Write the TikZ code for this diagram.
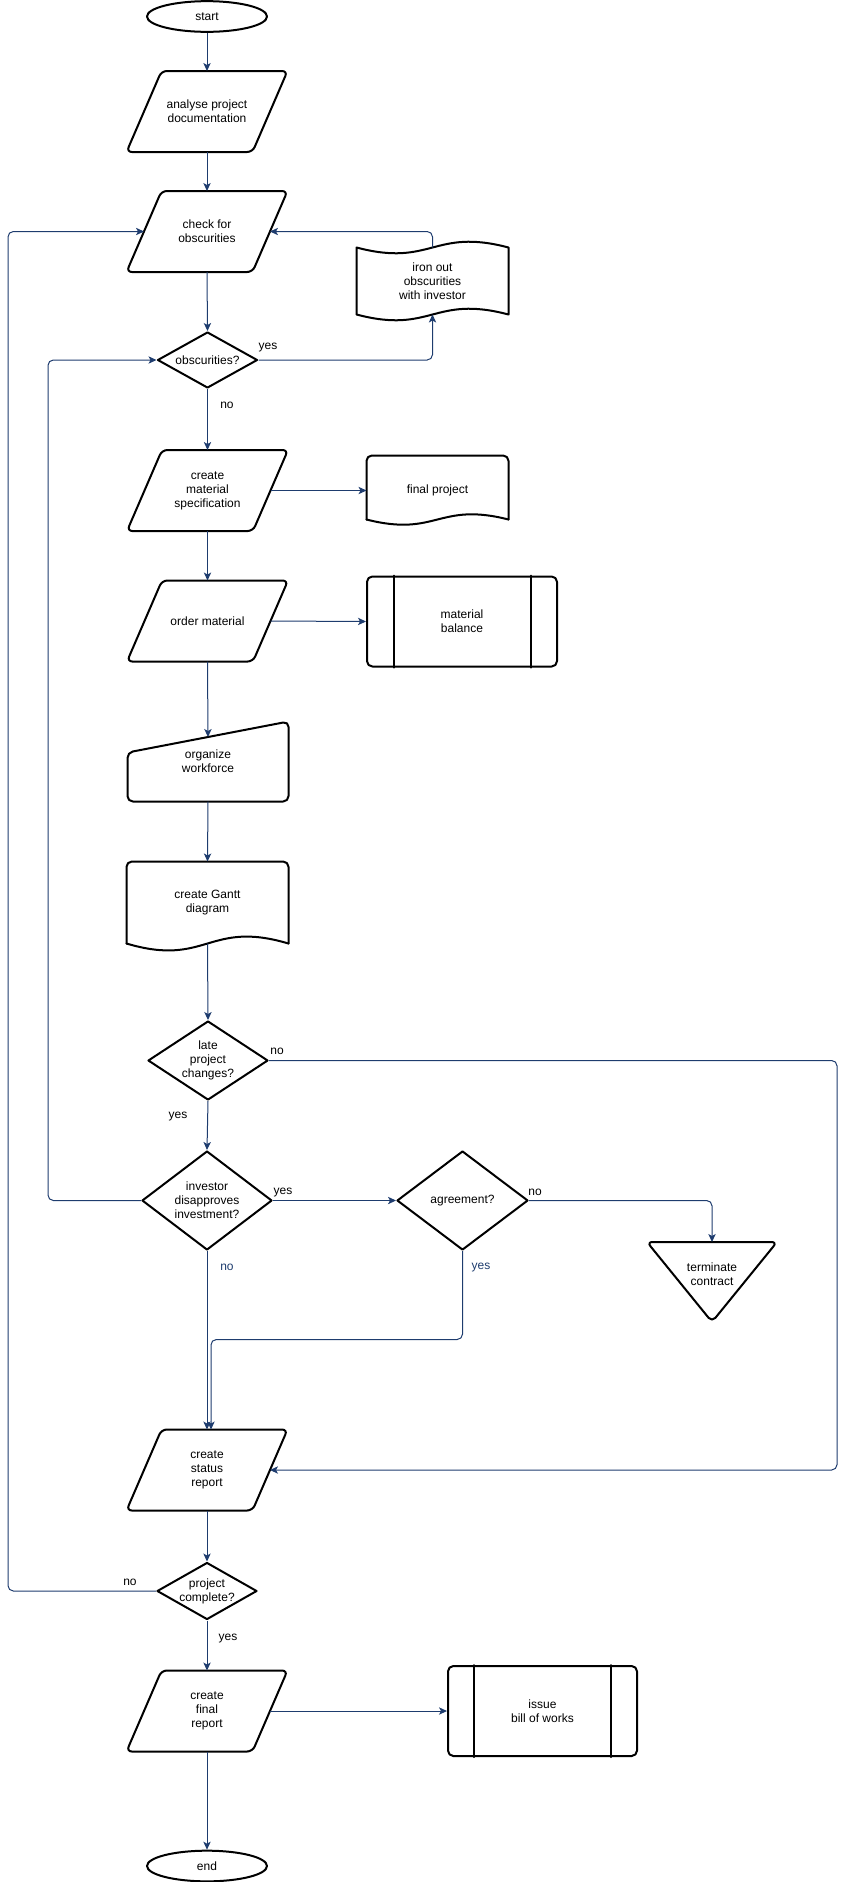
\documentclass[tikz,border=0pt]{standalone}
\usepackage{fontspec}
\setmainfont{Liberation Sans}
\usetikzlibrary{shapes.geometric,arrows.meta,calc}

\definecolor{linkblue}{RGB}{30,60,110}

\tikzset{every picture/.style={line width=0.75pt}}
\tikzset{
box text/.style={font=\fontsize{9}{10.5}\selectfont, align=center, inner sep=0pt},
outline/.style={draw=black, line width=1.5pt, line join=round, line cap=round},
terminal/.style={box text, outline, ellipse, minimum width=90pt, minimum height=23pt},
io box/.style={box text, rectangle, minimum width=93.75pt, minimum height=60pt},
decision/.style={box text, outline, diamond, shape aspect=1.5},
plain box/.style={box text, rectangle},
flow/.style={draw=linkblue, line width=0.75pt, rounded corners=4pt, -{Stealth[length=6pt,width=5.5pt,inset=1.5pt]}},
branch/.style={font=\fontsize{9}{10.5}\selectfont, inner sep=0pt}}

\begin{document}
\begin{tikzpicture}[x=0.75pt,y=0.75pt,yscale=-1,xscale=1]
\useasboundingbox (0,0) rectangle (853,1882);

%Rails for the loop connectors
\coordinate (leftrail) at (8,0);
\coordinate (midrail) at (48,0);
\coordinate (rightrail) at (837,0);

%Shape: Terminator
\node[terminal] (start) at (207,16.5) {start};
%Shape: Data
\node[io box] (analyse) at (207,111.5) {analyse project\\documentation};
\node[io box] (check) at (207,231.5) {check for\\obscurities};
%Shape: Decision
\node[decision, minimum width=75pt, minimum height=42pt] (obs) at (207.5,360) {obscurities?};
%Shape: Tape
\node[plain box, minimum width=113.25pt, minimum height=49.5pt] (ironout) at (432.5,281) {iron out\\obscurities\\with investor};
\draw[outline] (ironout.north west) .. controls +(75.5,20) and +(-75.5,-20) .. (ironout.north east) -- (ironout.south east) .. controls +(-75.5,-20) and +(75.5,20) .. (ironout.south west) -- cycle;

%Shape: Data
\node[io box] (spec) at (207.5,490.5) {create\\material\\specification};
%Shape: Document
\node[plain box, minimum width=105.75pt, minimum height=51pt] (final) at (437.5,490) {final project};
\draw[outline, rounded corners=4pt] ($(final.south west)+(0,-5)$) -- (final.north west) -- (final.north east) -- ($(final.south east)+(0,-5)$);
\draw[outline] ($(final.south east)+(0,-5)$) .. controls +(-70.5,-18) and +(70.5,18) .. ($(final.south west)+(0,-5)$);

%Shape: Data
\node[io box] (order) at (207.5,621) {order material};
%Shape: Predefined Process
\node[plain box, outline, rounded corners=4pt, minimum width=142.5pt, minimum height=67.5pt] (balance) at (462,621.5) {material\\balance};
\draw[outline] ($(balance.north west)+(28,0)$) -- ($(balance.south west)+(28,0)$);
\draw[outline] ($(balance.north east)+(-27,0)$) -- ($(balance.south east)+(-27,0)$);

%Shape: Manual Input
\node[plain box, minimum width=120pt, minimum height=59.25pt] (workforce) at (208,761.5) {organize\\workforce};
\draw[outline, rounded corners=4pt] (workforce.south west) -- ($(workforce.north west)+(0,31)$) -- (workforce.north east) -- (workforce.south east) -- cycle;
\coordinate (workforce top) at ($(workforce.north)+(0,15.5)$);

%Shape: Document
\node[plain box, minimum width=120.75pt, minimum height=60.75pt] (gantt) at (207.5,902.5) {create Gantt\\diagram};
\draw[outline, rounded corners=4pt] (gantt.south west) -- (gantt.north west) -- (gantt.north east) -- (gantt.south east);
\draw[outline] (gantt.south east) .. controls +(-80.5,-24) and +(80.5,24) .. (gantt.south west);

%Shape: Decision
\node[decision, minimum width=90pt, minimum height=59.25pt] (late) at (208,1060.5) {late\\project\\changes?};
\node[decision, minimum width=97.5pt, minimum height=74.25pt] (disapprove) at (207,1200.5) {investor\\disapproves\\investment?};
\node[decision, minimum width=98.25pt, minimum height=74.25pt] (agree) at (462.5,1200.5) {agreement?};

%Shape: Extract
\node[plain box] (terminate) at (712,1274) {terminate\\contract};
\draw[outline, rounded corners=4pt] ($(terminate.center)+(-65,-32)$) -- ($(terminate.center)+(65,-32)$) -- ($(terminate.center)+(0,48)$) -- cycle;
\coordinate (terminate top) at ($(terminate.center)+(0,-32)$);

%Shape: Data
\node[io box] (status) at (207,1470) {create\\status\\report};
%Shape: Decision
\node[decision, shape aspect=1.75, minimum width=75pt, minimum height=42.75pt] (complete) at (207,1591) {project\\complete?};
%Shape: Data
\node[io box] (report) at (207,1711) {create\\final\\report};
%Shape: Predefined Process
\node[plain box, outline, rounded corners=4pt, minimum width=141.75pt, minimum height=67.5pt] (bill) at (542.5,1711) {issue\\bill of works};
\draw[outline] ($(bill.north west)+(27,0)$) -- ($(bill.south west)+(27,0)$);
\draw[outline] ($(bill.north east)+(-27,0)$) -- ($(bill.south east)+(-27,0)$);
%Shape: Terminator
\node[terminal] (stop) at (207,1866) {end};

%Slanted sides of the data boxes
\foreach \n in {analyse,check,spec,order,status,report}
  \draw[outline, rounded corners=4pt] ($(\n.south west)+(-17.5,0)$) -- ($(\n.north west)+(17.5,0)$) -- ($(\n.north east)+(17.5,0)$) -- ($(\n.south east)+(-17.5,0)$) -- cycle;

%Connectors
\draw[flow] (start.south) -- (analyse.north);
\draw[flow] (analyse.south) -- (check.north);
\draw[flow] (check.south) -- (obs.north);
\draw[flow] (obs.east) -| (ironout.south);
\draw[flow] (ironout.north) |- (check.east);
\draw[flow] (obs.south) -- (spec.north);
\draw[flow] (spec.east) -- (spec.east -| final.west);
\draw[flow] (spec.south) -- (order.north);
\draw[flow] (order.east) -- (balance.west);
\draw[flow] (order.south) -- (workforce top);
\draw[flow] (workforce.south) -- (gantt.north);
\draw[flow] (gantt.south) -- (late.north);
\draw[flow] (late.east) -- (late.east -| rightrail) |- (status.east);
\draw[flow] (late.south) -- (disapprove.north);
\draw[flow] (disapprove.east) -- (agree.west);
\draw[flow] (agree.east) -| (terminate top);
\draw[flow] (disapprove.west) -- (disapprove.west -| midrail) |- (obs.west);
\draw[flow] (disapprove.south) -- (status.north);
\coordinate (merge) at ($(status.north)+(4,-90)$);
\draw[flow] (agree.south) |- (merge) -- (merge |- status.north);
\draw[flow] (status.south) -- (complete.north);
\draw[flow] (complete.west) -- (complete.west -| leftrail) |- (check.west);
\draw[flow] (complete.south) -- (report.north);
\draw[flow] (report.east) -- (bill.west);
\draw[flow] (report.south) -- (stop.north);

% Text Node
\node[branch] (yes obs) at (268,348) {yes};
\node[branch] (no obs) at (227,405) {no};
\node[branch] (no late) at (277,1051) {no};
\node[branch] (yes late) at (178,1117) {yes};
\node[branch] (yes invest) at (283,1192) {yes};
\node[branch] (no agree) at (535,1192) {no};
\node[branch, text=linkblue] (no invest) at (227,1267) {no};
\node[branch, text=linkblue] (yes agree) at (481,1267) {yes};
\node[branch] (no complete) at (130,1582) {no};
\node[branch] (yes complete) at (228,1638) {yes};

\end{tikzpicture}
\end{document}
